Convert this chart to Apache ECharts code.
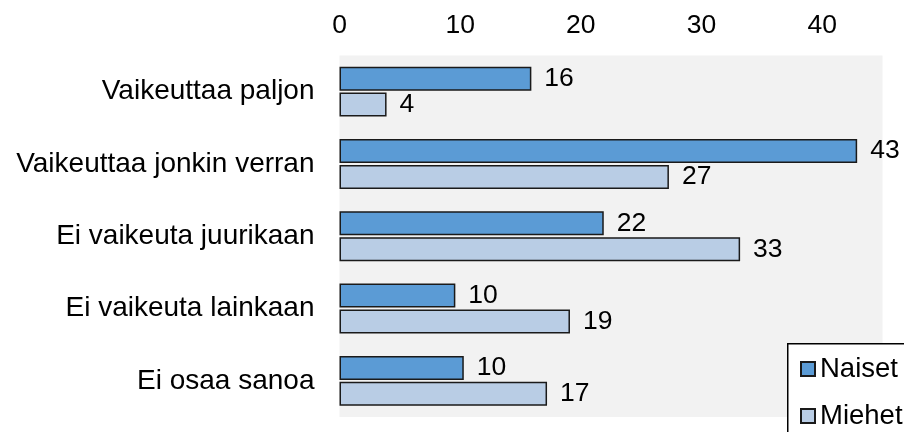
<!DOCTYPE html>
<html>
<head>
<meta charset="utf-8">
<script src="https://cdn.jsdelivr.net/npm/echarts@6/dist/echarts.min.js"></script>
<style>html,body{margin:0;padding:0;background:#fff}#c{width:904px;height:432px}</style>
</head>
<body>
<div id="c"></div>
<script>
var categories = ["Vaikeuttaa paljon", "Vaikeuttaa jonkin verran", "Ei vaikeuta juurikaan", "Ei vaikeuta lainkaan", "Ei osaa sanoa"];
var seriesNames = ["Naiset", "Miehet"];
var naiset = [15.9, 42.9, 21.9, 9.6, 10.3];
var miehet = [3.9, 27.3, 33.2, 19.1, 17.2];
var naisetLabels = [16, 43, 22, 10, 10];
var miehetLabels = [4, 27, 33, 19, 17];
var tickValues = [0, 10, 20, 30, 40];

var FONT = '"Liberation Sans", Arial, sans-serif';
var FS = 28;
var LFS = 27.5;
var NFS = 26.5;
var chart = echarts.init(document.getElementById('c'), null, {renderer: 'canvas'});
function mkSeries(name, data, labels, color) {
  return {
    name: name,
    type: 'bar',
    data: data,
    barWidth: 24,
    barGap: '8%',
    itemStyle: {color: color, borderColor: '#1a1a1a', borderWidth: 1.5},
    label: {
      show: true, position: 'right', distance: 13,
      color: '#000', fontFamily: FONT, fontSize: NFS,
      formatter: function (p) { return String(labels[p.dataIndex]); }
    }
  };
}
var legendText = {color: '#000', fontFamily: FONT, fontSize: LFS, lineHeight: 26};
chart.setOption({
  animation: false,
  textStyle: {fontFamily: FONT},
  grid: {left: 339.5, right: 21.5, top: 55.5, bottom: 15, show: true, backgroundColor: '#f2f2f2', borderWidth: 0, containLabel: false},
  xAxis: {
    type: 'value', position: 'top', min: 0, max: 45, interval: 10,
    axisLine: {show: false}, axisTick: {show: false}, splitLine: {show: false},
    axisLabel: {
      color: '#000', fontFamily: FONT, fontSize: NFS, margin: 16,
      showMaxLabel: false,
      formatter: function (v) { return tickValues.indexOf(v) >= 0 ? String(v) : ''; }
    }
  },
  yAxis: {
    type: 'category', data: categories, inverse: true,
    axisLine: {show: false}, axisTick: {show: false},
    axisLabel: {color: '#000', fontFamily: FONT, fontSize: FS, margin: 25, padding: [3, 0, 0, 0]}
  },
  graphic: [{
    type: 'rect', left: 787, top: 343, z: 50,
    shape: {width: 200, height: 200},
    style: {fill: '#fff', stroke: '#000', lineWidth: 1.5}
  }],
  legend: [{
    orient: 'vertical', left: 800, top: 355,
    data: [seriesNames[0]],
    icon: 'rect', itemWidth: 14, itemHeight: 14,
    padding: 0, z: 60,
    textStyle: legendText
  }, {
    orient: 'vertical', left: 800, top: 402,
    data: [seriesNames[1]],
    icon: 'rect', itemWidth: 14, itemHeight: 14,
    padding: 0, z: 60,
    textStyle: legendText
  }],
  series: [
    mkSeries(seriesNames[0], naiset, naisetLabels, '#5b9bd5'),
    mkSeries(seriesNames[1], miehet, miehetLabels, '#b9cde5')
  ]
});
</script>
</body>
</html>
